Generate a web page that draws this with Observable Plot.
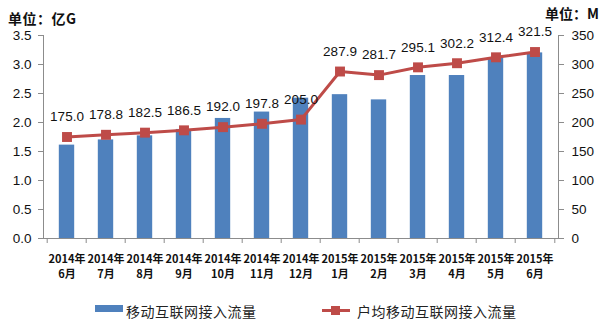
<!DOCTYPE html>
<html><head><meta charset="utf-8">
<script src="https://cdn.jsdelivr.net/npm/d3@7"></script>
<script src="https://cdn.jsdelivr.net/npm/@observablehq/plot@0.6"></script>
<style>
body{margin:0;background:#fff;}
#wrap{position:relative;width:606px;height:335px;overflow:hidden;background:#fff;}
.unit{position:absolute;font-family:"Noto Sans CJK SC",sans-serif;font-weight:bold;font-size:14px;line-height:18px;color:#111;white-space:nowrap;}
.leg{position:absolute;font-family:"Noto Sans CJK SC",sans-serif;font-size:14px;line-height:18px;color:#222;white-space:nowrap;}
#chart svg{display:block;}
</style></head><body>
<div id="wrap">
  <div id="chart"></div>
  <div class="unit" style="left:8px;top:9px;letter-spacing:0.5px">单位：亿G</div>
  <div class="unit" style="left:545px;top:4px">单位：M</div>
  <div id="legend"></div>
</div>
<script>
const months = ["2014年\n6月","2014年\n7月","2014年\n8月","2014年\n9月","2014年\n10月","2014年\n11月","2014年\n12月","2015年\n1月","2015年\n2月","2015年\n3月","2015年\n4月","2015年\n5月","2015年\n6月"];
const traffic = [1.61,1.70,1.77,1.88,2.07,2.18,2.42,2.48,2.39,2.81,2.81,3.12,3.20]; // 亿G
const perUser = [175.0,178.8,182.5,186.5,192.0,197.8,205.0,287.9,281.7,295.1,302.2,312.4,321.5]; // M
const leftTicks = [0,0.5,1.0,1.5,2.0,2.5,3.0,3.5];
const rightTicks = [0,50,100,150,200,250,300,350];
const seriesNames = ["移动互联网接入流量","户均移动互联网接入流量"];
const barColor = "#4F81BD", lineColor = "#BE4B48";

const ratio = rightTicks[rightTicks.length-1] / leftTicks[leftTicks.length-1];
const data = months.map((m,i)=>({month:m, traffic:traffic[i], perUser:perUser[i]}));

const W = 606, ML = 43, MR = 48;
const step = (W - ML - MR) / months.length;
const barW = 16;
const inset = (step - barW) / 2;

const chart = Plot.plot({
  width: W, height: 290,
  marginTop: 35, marginBottom: 52, marginLeft: ML, marginRight: MR,
  x: {domain: months, padding: 0, label: null},
  y: {domain: [0, leftTicks[leftTicks.length-1]], label: null},
  style: {fontFamily: "Liberation Sans, sans-serif", fontSize: "13px", color: "#111", background: "#fff"},
  marks: [
    Plot.barY(data, {x: "month", y: "traffic", fill: barColor, insetLeft: inset, insetRight: inset}),
    Plot.frame({anchor: "left", stroke: "#8c8c8c"}),
    Plot.frame({anchor: "right", stroke: "#8c8c8c"}),
    Plot.ruleY([0], {stroke: "#8c8c8c"}),
    Plot.ruleX(months, {x: d => d, y1: 0, y2: 0, insetBottom: -5, dx: -step/2, stroke: "#8c8c8c"}),
    Plot.ruleX(months.slice(-1), {x: d => d, y1: 0, y2: 0, insetBottom: -5, dx: step/2, stroke: "#8c8c8c"}),
    Plot.axisY({anchor: "left", ticks: leftTicks, tickFormat: d3.format(".1f"), tickSize: 5, tickPadding: 7, stroke: "#8c8c8c", fill: "#111", fontSize: 13.5, label: null}),
    Plot.axisY({anchor: "right", ticks: rightTicks.map(v => v / ratio), tickFormat: d => String(Math.round(d * ratio)), tickSize: 5, tickPadding: 8, stroke: "#8c8c8c", fill: "#111", fontSize: 13.5, label: null}),
    Plot.axisX({tickSize: 0, tickPadding: 14, fontFamily: "Noto Sans CJK SC, sans-serif", fontWeight: "bold", fontSize: 11, lineHeight: 1.35, fill: "#111", label: null}),
    Plot.lineY(data, {x: "month", y: d => d.perUser / ratio, stroke: lineColor, strokeWidth: 3}),
    Plot.dot(data, {x: "month", y: d => d.perUser / ratio, symbol: "square", r: 5.6, fill: lineColor, stroke: "none"}),
    Plot.text(data, {x: "month", y: d => d.perUser / ratio, text: d => d.perUser.toFixed(1), dy: -20, fontSize: 13.5, fill: "#111"})
  ]
});
document.getElementById("chart").appendChild(chart);

const leg = document.getElementById("legend");
leg.innerHTML = `
  <div style="position:absolute;left:95px;top:305px;width:28px;height:7px;background:${barColor}"></div>
  <div class="leg" style="left:126px;top:302px;letter-spacing:0.5px">${seriesNames[0]}</div>
  <div style="position:absolute;left:322px;top:309px;width:28px;height:3px;background:${lineColor}"></div>
  <div style="position:absolute;left:331px;top:306px;width:9px;height:9px;background:${lineColor}"></div>
  <div class="leg" style="left:357px;top:302px;letter-spacing:0.5px">${seriesNames[1]}</div>`;
</script>
</body></html>
